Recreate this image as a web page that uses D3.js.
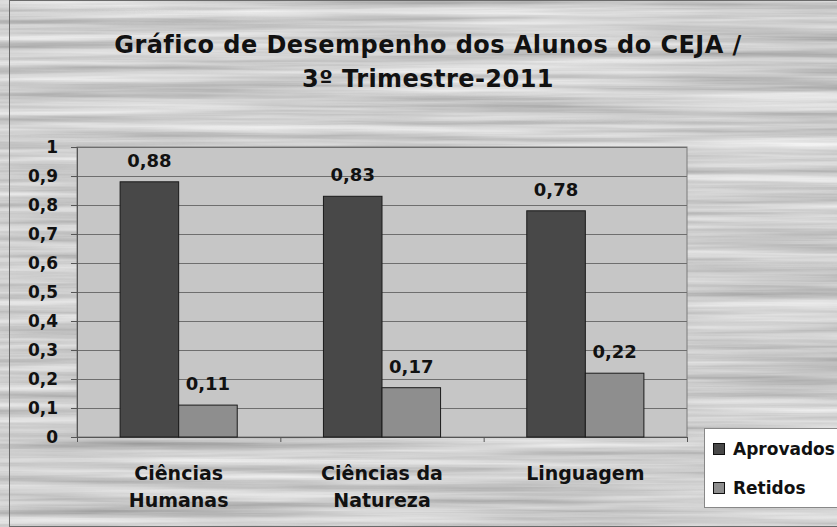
<!DOCTYPE html>
<html><head><meta charset="utf-8">
<script src="https://cdn.jsdelivr.net/npm/d3@7"></script>
<style>html,body{margin:0;padding:0;background:#a0a0a0;}svg{display:block;font-family:"DejaVu Sans",sans-serif;}</style>
</head><body><div id="chart"></div>
<script>
const categories = [["Ciências","Humanas"],["Ciências da","Natureza"],["Linguagem"]];
const seriesNames = ["Aprovados","Retidos"];
const aprovados = [0.88, 0.83, 0.78];
const retidos = [0.11, 0.17, 0.22];
const yTicks = [0,0.1,0.2,0.3,0.4,0.5,0.6,0.7,0.8,0.9,1];
const titleLines = ["Gráfico de Desempenho dos Alunos do CEJA /","3º Trimestre-2011"];

const W=837,H=527;
const plot={left:77,right:687,top:147,bottom:437};
const colors=["#484848","#8e8e8e"];
const FONT="DejaVu Sans, sans-serif";
const fmt=v=>String(v).replace(".",",");

const svg=d3.select("#chart").append("svg").attr("width",W).attr("height",H);
const defs=svg.append("defs");
const f=defs.append("filter").attr("id","wood").attr("x",0).attr("y",0).attr("width","100%").attr("height","100%");
f.append("feTurbulence").attr("type","fractalNoise").attr("baseFrequency","0.003 0.12").attr("numOctaves",4).attr("seed",11).attr("result","n");
f.append("feColorMatrix").attr("in","n").attr("type","matrix")
 .attr("values","0.65 0 0 0 0.3  0.65 0 0 0 0.3  0.65 0 0 0 0.3  0 0 0 0 1");
svg.append("rect").attr("width",W).attr("height",H).attr("fill","#a0a0a0");
svg.append("rect").attr("width",W).attr("height",H).attr("filter","url(#wood)");
svg.append("rect").attr("x",9.5).attr("y",0.5).attr("width",W).attr("height",H-1).attr("fill","none").attr("stroke","#6a6a6a").attr("stroke-width",1);

const x0=d3.scaleBand().domain(d3.range(categories.length)).range([plot.left,plot.right]).paddingInner(0.424).paddingOuter(0.212);
const x1=d3.scaleBand().domain(seriesNames).range([0,x0.bandwidth()]);
const y=d3.scaleLinear().domain([0,1]).range([plot.bottom,plot.top]);

svg.append("rect").attr("x",plot.left).attr("y",plot.top).attr("width",plot.right-plot.left).attr("height",plot.bottom-plot.top)
 .attr("fill","#c6c6c6").attr("stroke","#7a7a7a");

svg.append("g").selectAll("line").data(yTicks.slice(1)).join("line")
 .attr("x1",plot.left).attr("x2",plot.right).attr("y1",d=>Math.round(y(d))+0.5).attr("y2",d=>Math.round(y(d))+0.5)
 .attr("stroke","#6e6e6e").attr("stroke-width",1);

const yAxis=svg.append("g").attr("transform",`translate(${plot.left},0)`)
 .call(d3.axisLeft(y).tickValues(yTicks).tickFormat(fmt).tickSize(6).tickPadding(13));
yAxis.select(".domain").attr("stroke","#555");
yAxis.selectAll(".tick line").attr("stroke","#555");
yAxis.selectAll("text").attr("font-size",17).attr("font-weight","bold").attr("fill","#111").attr("font-family",FONT);

const xAxis=svg.append("g").attr("transform",`translate(0,${plot.bottom})`)
 .call(d3.axisBottom(d3.scaleLinear().domain([0,3]).range([plot.left,plot.right])).tickValues([0,1,2,3]).tickSize(5).tickFormat(""));
xAxis.select(".domain").attr("stroke","#555");
xAxis.selectAll(".tick line").attr("stroke","#555");

const data=categories.map((c,i)=>({i,vals:[aprovados[i],retidos[i]]}));
const g=svg.append("g").selectAll("g").data(data).join("g").attr("transform",d=>`translate(${x0(d.i)},0)`);
g.selectAll("rect").data(d=>d.vals.map((v,k)=>({v,k}))).join("rect")
 .attr("x",d=>x1(seriesNames[d.k])).attr("width",x1.bandwidth())
 .attr("y",d=>y(d.v)).attr("height",d=>plot.bottom-y(d.v))
 .attr("fill",d=>colors[d.k]).attr("stroke","#1a1a1a").attr("stroke-width",1);
g.selectAll("text").data(d=>d.vals.map((v,k)=>({v,k}))).join("text")
 .attr("x",d=>x1(seriesNames[d.k])+x1.bandwidth()/2).attr("y",d=>y(d.v)-15)
 .attr("text-anchor","middle").attr("font-size",18).attr("font-weight","bold").attr("fill","#111").text(d=>fmt(d.v));

const cl=svg.append("g").selectAll("text").data(categories).join("text")
 .attr("x",(d,i)=>x0(i)+x0.bandwidth()/2).attr("y",480)
 .attr("text-anchor","middle").attr("font-size",19).attr("font-weight","bold").attr("fill","#111");
cl.selectAll("tspan").data(d=>d).join("tspan").attr("x",function(){return this.parentNode.getAttribute("x");})
 .attr("dy",(d,j)=>j?27:0).text(d=>d);

const t=svg.append("g");
titleLines.forEach((s,i)=>t.append("text").attr("x",428).attr("y",53+i*34).attr("text-anchor","middle")
 .attr("font-size",24).attr("font-weight","bold").attr("letter-spacing",0.45).attr("fill","#111").text(s));

const lg=svg.append("g");
lg.append("rect").attr("x",704.5).attr("y",428.5).attr("width",140).attr("height",79).attr("fill","#fff").attr("stroke","#888");
seriesNames.forEach((s,k)=>{
 lg.append("rect").attr("x",713.5).attr("y",443.5+k*39).attr("width",11).attr("height",11).attr("fill",colors[k]).attr("stroke","#111");
 lg.append("text").attr("x",733).attr("y",455+k*39).attr("font-size",17).attr("font-weight","bold").attr("fill","#111").text(s);
});
</script></body></html>
